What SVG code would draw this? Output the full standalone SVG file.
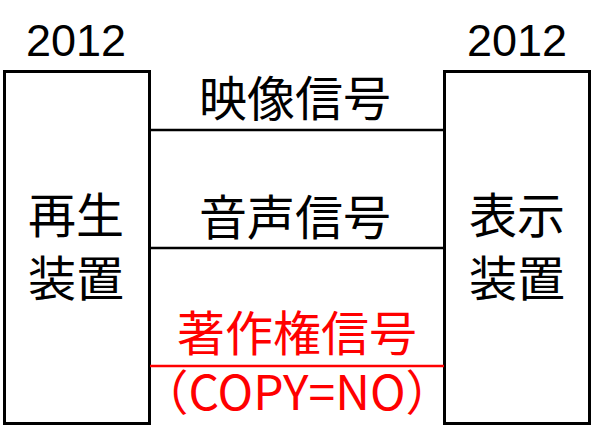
<svg xmlns="http://www.w3.org/2000/svg" width="594" height="444" viewBox="0 0 594 444">
<style>
.box{fill:#fff;stroke:#000;stroke-width:3}
.t{font-family:"Noto Sans CJK JP","Liberation Sans",sans-serif;font-size:48px;fill:#000;text-anchor:middle}
.y{font-family:"Liberation Sans","Noto Sans CJK JP",sans-serif;font-size:45px;fill:#000;text-anchor:middle}
.red{fill:#f00}
.c{stroke:#000;stroke-width:2.5;fill:none}
</style>
<rect width="594" height="444" fill="#fff"/>
<g id="player">
<text class="y" x="76" y="56">2012</text>
<rect class="box" x="4.5" y="71.5" width="145" height="352"/>
<text class="t" x="76" y="233">再生</text>
<text class="t" x="76" y="296">装置</text>
</g>
<g id="display">
<text class="y" x="517" y="56">2012</text>
<rect class="box" x="444.5" y="71.5" width="145" height="352"/>
<text class="t" x="517" y="233">表示</text>
<text class="t" x="517" y="296">装置</text>
</g>
<g id="connectors">
<line class="c" x1="150" y1="130" x2="444" y2="130"/>
<line class="c" x1="150" y1="248" x2="444" y2="248"/>
<line class="c" x1="150" y1="366" x2="444" y2="366" stroke="#f00" style="stroke:#f00"/>
</g>
<g id="labels">
<text class="t" x="295" y="116">映像信号</text>
<text class="t" x="295" y="235">音声信号</text>
<text class="t red" x="297" y="351">著作権信号</text>
<text class="t red" x="297" y="410">（COPY=NO）</text>
</g>
</svg>
